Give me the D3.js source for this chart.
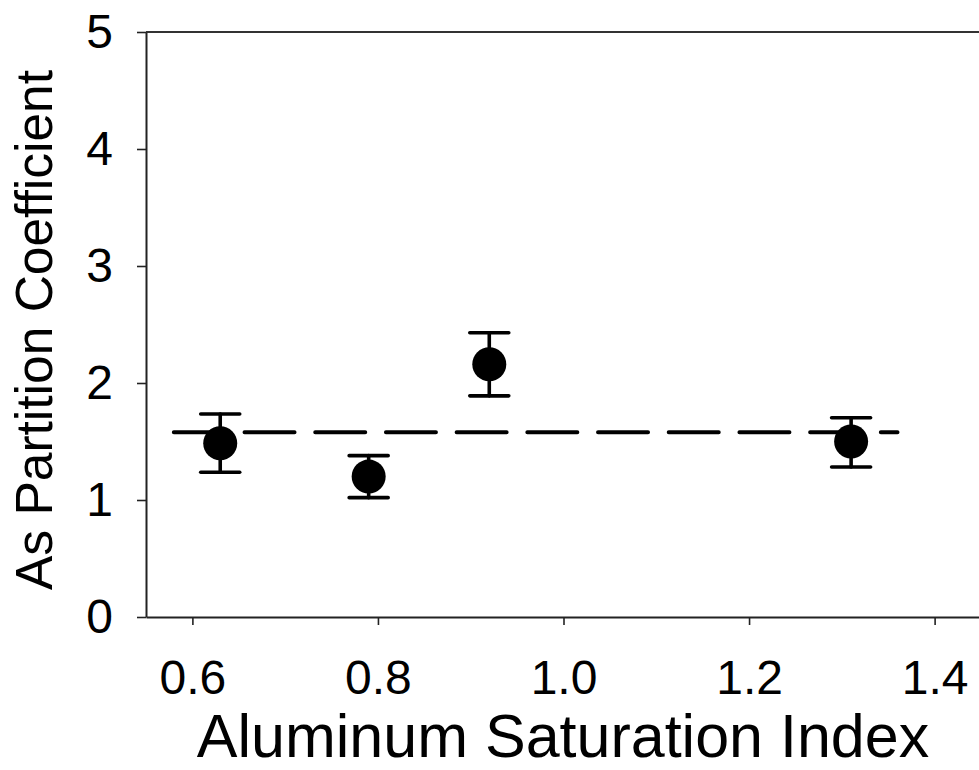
<!DOCTYPE html>
<html>
<head>
<meta charset="utf-8">
<script src="https://cdn.jsdelivr.net/npm/d3@7"></script>
<style>
  html, body { margin: 0; padding: 0; background: #fff; }
  svg { display: block; }
  text { font-family: "Liberation Sans", Arial, sans-serif; fill: #000; }
</style>
</head>
<body>
<svg id="chart" width="979" height="770"></svg>
<script>
// ---- data ----
const asiValues = [0.63, 0.79, 0.92, 1.31];
const partitionCoef = [1.485, 1.20, 2.16, 1.50];
const errLow = [1.237, 1.02, 1.89, 1.282];
const errHigh = [1.735, 1.379, 2.43, 1.703];
const meanLevel = 1.58;
const meanRange = [0.58, 1.36];
const xTicks = [0.6, 0.8, 1.0, 1.2, 1.4];
const yTicks = [0, 1, 2, 3, 4, 5];
const xTitle = "Aluminum Saturation Index";
const yTitle = "As Partition Coefficient";

// ---- layout ----
const svg = d3.select("#chart");
const plotLeft = 146, plotRight = 981, plotTop = 32, plotBottom = 617;

const x = d3.scaleLinear().domain([0.55, 1.45]).range([plotLeft, plotRight]);
const y = d3.scaleLinear().domain([0, 5]).range([plotBottom, plotTop]);

// top border
svg.append("line")
  .attr("x1", plotLeft).attr("x2", plotRight)
  .attr("y1", plotTop).attr("y2", plotTop)
  .attr("stroke", "#333").attr("stroke-width", 2);

// axes
const yAxis = svg.append("g")
  .attr("transform", `translate(${plotLeft},0)`)
  .call(d3.axisLeft(y).tickValues(yTicks).tickFormat(d3.format("d"))
        .tickSize(9).tickSizeOuter(0).tickPadding(24));
const xAxis = svg.append("g")
  .attr("transform", `translate(0,${plotBottom})`)
  .call(d3.axisBottom(x).tickValues(xTicks).tickFormat(d3.format(".1f"))
        .tickSize(8).tickSizeOuter(0).tickPadding(35));

[yAxis, xAxis].forEach(g => {
  g.select(".domain").attr("stroke", "#222").attr("stroke-width", 2);
  g.selectAll(".tick line").attr("stroke", "#222").attr("stroke-width", 1.6);
  g.selectAll(".tick text")
    .attr("font-family", "'Liberation Sans', Arial, sans-serif")
    .attr("font-size", 48).attr("fill", "#000");
});

// axis titles
svg.append("text")
  .attr("x", 563).attr("y", 757)
  .attr("text-anchor", "middle")
  .attr("font-size", 61)
  .text(xTitle);
svg.append("text")
  .attr("transform", "translate(52,330) rotate(-90)")
  .attr("text-anchor", "middle")
  .attr("font-size", 51.5)
  .text(yTitle);

// dashed mean line
svg.append("line")
  .attr("x1", x(meanRange[0])).attr("x2", x(meanRange[1]))
  .attr("y1", y(meanLevel)).attr("y2", y(meanLevel))
  .attr("stroke", "#000").attr("stroke-width", 4)
  .attr("stroke-linecap", "round")
  .attr("stroke-dasharray", "50,20.7");

// error bars + points
const pts = asiValues.map((v, i) => ({ x: v, y: partitionCoef[i], lo: errLow[i], hi: errHigh[i] }));
const capHalf = 19.5;
const g = svg.append("g");
pts.forEach(p => {
  const cx = x(p.x);
  g.append("line").attr("x1", cx).attr("x2", cx).attr("y1", y(p.lo)).attr("y2", y(p.hi))
    .attr("stroke", "#000").attr("stroke-width", 3.6).attr("stroke-linecap", "round");
  [p.lo, p.hi].forEach(v => {
    g.append("line").attr("x1", cx - capHalf).attr("x2", cx + capHalf)
      .attr("y1", y(v)).attr("y2", y(v))
      .attr("stroke", "#000").attr("stroke-width", 3.6).attr("stroke-linecap", "round");
  });
});
g.selectAll("circle").data(pts).enter().append("circle")
  .attr("cx", d => x(d.x)).attr("cy", d => y(d.y)).attr("r", 17)
  .attr("fill", "#000");
</script>
</body>
</html>
